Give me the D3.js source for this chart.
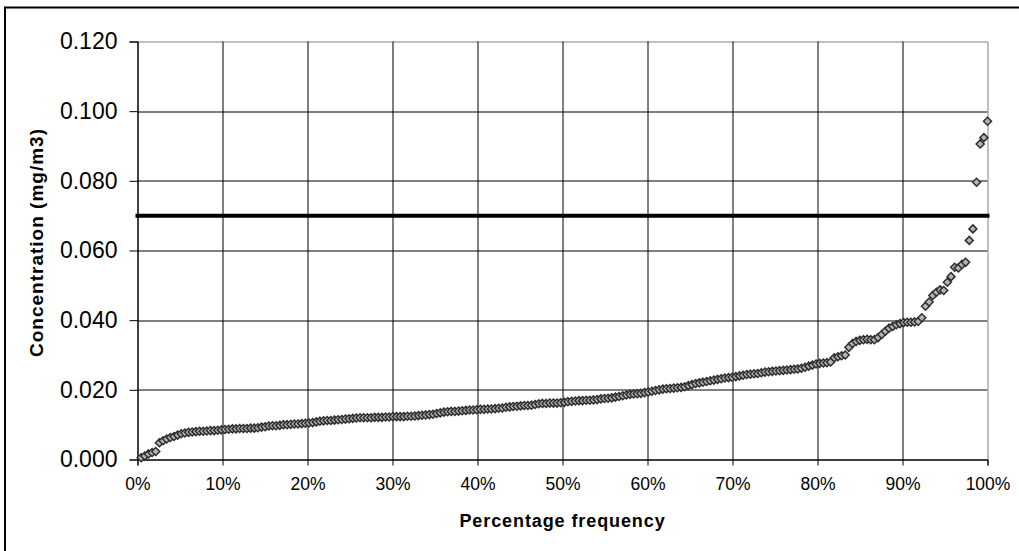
<!DOCTYPE html>
<html>
<head>
<meta charset="utf-8">
<script src="https://cdn.jsdelivr.net/npm/d3@7"></script>
<style>
  body { margin: 0; background: #fff; }
  .chart text { font-family: "Liberation Sans", Arial, sans-serif; fill: #000; }
  .axis-text { font-weight: bold; }
</style>
</head>
<body>
<div class="chart"></div>
<script>
// Step 0: chart data
//= ================================
// concentrations (mg/m3) sorted ascending, plotted against rank / n
var concentrations = [
  0.0005, 0.0010, 0.0016, 0.0020, 0.0023, 0.0048, 0.0054, 0.0059, 0.0063, 0.0066,
  0.0070, 0.0074, 0.0076, 0.0078, 0.0079, 0.0080, 0.0081, 0.0081, 0.0082, 0.0083,
  0.0083, 0.0084, 0.0085, 0.0086, 0.0087, 0.0088, 0.0088, 0.0089, 0.0089, 0.0089,
  0.0090, 0.0090, 0.0091, 0.0093, 0.0094, 0.0096, 0.0097, 0.0097, 0.0098, 0.0100,
  0.0100, 0.0101, 0.0102, 0.0102, 0.0103, 0.0104, 0.0105, 0.0106, 0.0108, 0.0110,
  0.0111, 0.0112, 0.0112, 0.0113, 0.0114, 0.0115, 0.0116, 0.0117, 0.0118, 0.0119,
  0.0120, 0.0120, 0.0120, 0.0120, 0.0121, 0.0121, 0.0121, 0.0122, 0.0122, 0.0123,
  0.0123, 0.0123, 0.0123, 0.0124, 0.0124, 0.0125, 0.0126, 0.0127, 0.0128, 0.0129,
  0.0130, 0.0132, 0.0134, 0.0136, 0.0137, 0.0138, 0.0138, 0.0139, 0.0140, 0.0141,
  0.0142, 0.0142, 0.0143, 0.0144, 0.0144, 0.0145, 0.0145, 0.0146, 0.0147, 0.0148,
  0.0150, 0.0151, 0.0152, 0.0153, 0.0154, 0.0155, 0.0155, 0.0156, 0.0158, 0.0160,
  0.0161, 0.0161, 0.0162, 0.0162, 0.0162, 0.0163, 0.0164, 0.0166, 0.0167, 0.0168,
  0.0169, 0.0169, 0.0170, 0.0170, 0.0171, 0.0172, 0.0174, 0.0175, 0.0176, 0.0177,
  0.0179, 0.0181, 0.0183, 0.0185, 0.0187, 0.0188, 0.0189, 0.0190, 0.0192, 0.0194,
  0.0196, 0.0198, 0.0200, 0.0202, 0.0203, 0.0204, 0.0205, 0.0206, 0.0207, 0.0209,
  0.0212, 0.0215, 0.0218, 0.0220, 0.0222, 0.0224, 0.0226, 0.0228, 0.0230, 0.0232,
  0.0234, 0.0235, 0.0236, 0.0238, 0.0240, 0.0242, 0.0244, 0.0245, 0.0246, 0.0247,
  0.0249, 0.0251, 0.0252, 0.0253, 0.0254, 0.0255, 0.0256, 0.0257, 0.0258, 0.0259,
  0.0260, 0.0262, 0.0265, 0.0268, 0.0271, 0.0274, 0.0276, 0.0277, 0.0278, 0.0280,
  0.0292, 0.0295, 0.0298, 0.0300, 0.0322, 0.0333, 0.0339, 0.0342, 0.0344, 0.0345,
  0.0344, 0.0344, 0.0350, 0.0359, 0.0368, 0.0377, 0.0382, 0.0387, 0.0390, 0.0393,
  0.0394, 0.0394, 0.0395, 0.0396, 0.0407, 0.0440, 0.0452, 0.0471, 0.0480, 0.0487,
  0.0485, 0.0509, 0.0525, 0.0552, 0.0550, 0.0560, 0.0566, 0.0629, 0.0662, 0.0796,
  0.0906, 0.0924, 0.0971
];

// guideline value drawn as the thick horizontal line
var standardValue = 0.07;

var yTicks = [0, 0.02, 0.04, 0.06, 0.08, 0.1, 0.12];
var xTicks = [0, 0.1, 0.2, 0.3, 0.4, 0.5, 0.6, 0.7, 0.8, 0.9, 1];

var xTitle = "Percentage frequency";
var yTitle = "Concentration (mg/m3)";

// Step 1: set up the chart
//= ================================
var svgWidth = 1019;
var svgHeight = 551;

var margin = { top: 41.5, right: 31.5, bottom: 91.5, left: 137.5 };

var width = svgWidth - margin.left - margin.right;
var height = svgHeight - margin.top - margin.bottom;

var svg = d3
  .select(".chart")
  .append("svg")
  .attr("width", svgWidth)
  .attr("height", svgHeight);

// outer frame (only left and top edges fall inside the window)
svg
  .append("rect")
  .attr("x", 5)
  .attr("y", 7.5)
  .attr("width", 1030)
  .attr("height", 560)
  .attr("fill", "none")
  .attr("stroke", "#000")
  .attr("stroke-width", 2);

var chart = svg
  .append("g")
  .attr("transform", "translate(" + margin.left + "," + margin.top + ")");

// scales
var xLinearScale = d3.scaleLinear().domain([0, 1]).range([0, width]);
var yLinearScale = d3.scaleLinear().domain([0, 0.12]).range([height, 0]);

// gridlines
chart
  .append("g")
  .attr("class", "grid")
  .selectAll("line.h")
  .data(yTicks)
  .enter()
  .append("line")
  .attr("x1", 0)
  .attr("x2", width)
  .attr("y1", function(d) { return Math.round(yLinearScale(d)) + 0.5; })
  .attr("y2", function(d) { return Math.round(yLinearScale(d)) + 0.5; })
  .attr("stroke", function(d) { return d === 0.12 ? "#808080" : "#000"; })
  .attr("stroke-width", 1);

chart
  .select(".grid")
  .selectAll("line.v")
  .data(xTicks)
  .enter()
  .append("line")
  .attr("class", "v")
  .attr("x1", function(d) { return Math.round(xLinearScale(d)) + 0.5; })
  .attr("x2", function(d) { return Math.round(xLinearScale(d)) + 0.5; })
  .attr("y1", 0)
  .attr("y2", height)
  .attr("stroke", function(d) { return d === 1 ? "#808080" : "#000"; })
  .attr("stroke-width", 1);

// axes
var bottomAxis = d3
  .axisBottom(xLinearScale)
  .tickValues(xTicks)
  .tickSize(6)
  .tickPadding(12)
  .tickFormat(d3.format(".0%"));

var leftAxis = d3
  .axisLeft(yLinearScale)
  .tickValues(yTicks)
  .tickSize(8)
  .tickPadding(12)
  .tickFormat(d3.format(".3f"));

var xAxisG = chart
  .append("g")
  .attr("transform", "translate(0," + height + ")")
  .attr("class", "x-axis")
  .call(bottomAxis);

var yAxisG = chart.append("g").attr("class", "y-axis").call(leftAxis);

xAxisG.selectAll("text").style("font-size", "17.5px");
yAxisG.selectAll("text").style("font-size", "23px");
chart.selectAll(".domain").attr("stroke", "#000");
chart.selectAll(".tick line").attr("stroke", "#000");

// guideline at 0.070
chart
  .append("line")
  .attr("x1", xLinearScale(0))
  .attr("x2", xLinearScale(1))
  .attr("y1", yLinearScale(standardValue))
  .attr("y2", yLinearScale(standardValue))
  .attr("stroke", "#000")
  .attr("stroke-width", 4)
  .attr("stroke-linecap", "square");

// diamond markers
var n = concentrations.length;

chart
  .selectAll("path.point")
  .data(concentrations)
  .enter()
  .append("path")
  .attr("class", "point")
  .attr("d", "M0,-4L4,0L0,4L-4,0Z")
  .attr("transform", function(d, index) {
    return "translate(" + xLinearScale((index + 1) / n) + "," + yLinearScale(d) + ")";
  })
  .attr("fill", "#b4b4b4")
  .attr("stroke", "#2e2e2e")
  .attr("stroke-width", 1.5);

// y-axis label
chart
  .append("text")
  .attr("transform", "rotate(-90)")
  .attr("y", 43 - margin.left)
  .attr("x", 0 - height / 2 + 8)
  .attr("text-anchor", "middle")
  .attr("class", "axis-text")
  .style("font-size", "19px")
  .style("letter-spacing", "1px")
  .text(yTitle);

// x-axis label
chart
  .append("text")
  .attr("transform", "translate(" + (width / 2) + " ," + (527 - margin.top) + ")")
  .attr("text-anchor", "middle")
  .attr("class", "axis-text")
  .style("font-size", "18px")
  .style("letter-spacing", "0.9px")
  .text(xTitle);
</script>
</body>
</html>
